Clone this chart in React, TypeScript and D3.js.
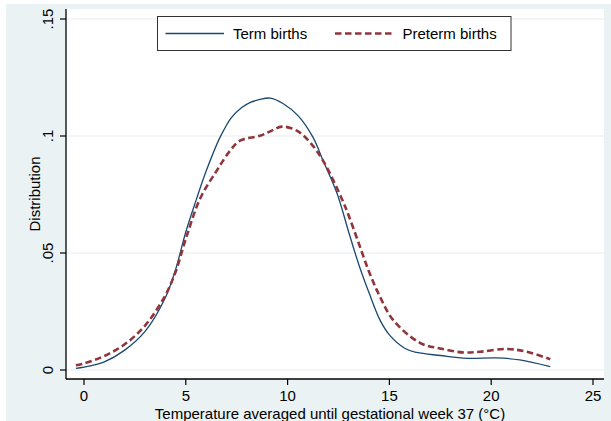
import React from "react";
import * as d3 from "d3";

const termX = [-0.4, 0, 1, 2, 3, 4, 4.5, 5, 5.5, 6, 6.68, 7.25, 7.75, 8.15, 8.6, 9.14, 9.77, 10.51, 11.25, 11.74, 12.43, 13, 13.5, 14, 14.54, 15, 15.77, 16.34, 17.5, 18.8, 20.27, 21.4, 22.9];
const termY = [0.0007, 0.0012, 0.0035, 0.0085, 0.0165, 0.031, 0.043, 0.059, 0.0724, 0.085, 0.0994, 0.108, 0.1122, 0.1143, 0.1155, 0.1162, 0.1139, 0.1087, 0.0994, 0.0895, 0.0754, 0.059, 0.045, 0.033, 0.0213, 0.015, 0.0092, 0.0075, 0.0062, 0.005, 0.0052, 0.0043, 0.0014];

const pretermX = [-0.4, 0, 1, 2, 3, 4, 4.5, 5, 5.7, 6.52, 7.2, 7.66, 8.64, 9.2, 9.71, 10.45, 11.1, 11.74, 12.66, 13, 13.5, 14, 14.5, 15.19, 16.5, 17.49, 18.63, 19.45, 20.76, 21.74, 22.9];
const pretermY = [0.002, 0.0028, 0.006, 0.011, 0.019, 0.032, 0.042, 0.056, 0.0732, 0.0852, 0.094, 0.098, 0.1001, 0.1022, 0.104, 0.1023, 0.0973, 0.0895, 0.0732, 0.066, 0.054, 0.042, 0.032, 0.0213, 0.0116, 0.0092, 0.0075, 0.0078, 0.009, 0.0078, 0.0046];

const xTicks = [0, 5, 10, 15, 20, 25];
const yTicks = [0, 0.05, 0.1, 0.15];
const yTickLabels = ["0", ".05", ".1", ".15"];
const seriesNames = ["Term births", "Preterm births"];

const W = 611;
const H = 421;
const FONT = "'Liberation Sans', Arial, sans-serif";
const BLUE = "#1a476f";
const RED = "#90353b";
const BG = "#eaf2f3";
const GRID = "#e5eef0";

export default function App() {
  const x = d3.scaleLinear().domain([0, 25]).range([84, 593]);
  const y = d3.scaleLinear().domain([0, 0.15]).range([370, 19]);
  const plotL = 66, plotR = 604, plotT = 9, plotB = 379;

  const line = d3
    .line<[number, number]>()
    .x((d) => x(d[0]))
    .y((d) => y(d[1]))
    .curve(d3.curveCatmullRom.alpha(0.5));

  const term = termX.map((v, i) => [v, termY[i]] as [number, number]);
  const pre = pretermX.map((v, i) => [v, pretermY[i]] as [number, number]);

  return (
    <svg
      width={W}
      height={H}
      style={{ position: "absolute", left: 0, top: 0, display: "block" }}
      fontFamily={FONT}
    >
      <rect x={0} y={0} width={W} height={H} fill="#ffffff" />
      <rect x={6} y={4} width={W - 6} height={H - 4} fill={BG} />
      <rect x={plotL} y={plotT} width={plotR - plotL} height={plotB - plotT} fill="#ffffff" />
      {yTicks.map((t) => (
        <line key={"g" + t} x1={plotL} x2={plotR} y1={y(t)} y2={y(t)} stroke={GRID} strokeWidth={1.2} />
      ))}
      <path d={line(term) || ""} fill="none" stroke={BLUE} strokeWidth={1.3} />
      <path d={line(pre) || ""} fill="none" stroke={RED} strokeWidth={2.6} strokeDasharray="6.5 3.5" />
      <line x1={plotL} x2={plotL} y1={plotT} y2={plotB} stroke="#000" strokeWidth={1.3} />
      <line x1={plotL} x2={plotR} y1={plotB} y2={plotB} stroke="#000" strokeWidth={1.3} />
      {yTicks.map((t, i) => (
        <g key={"yt" + t}>
          <line x1={plotL - 6} x2={plotL} y1={y(t)} y2={y(t)} stroke="#000" strokeWidth={1.2} />
          <text
            x={0}
            y={0}
            transform={`translate(53,${y(t)}) rotate(-90)`}
            textAnchor="middle"
            fontSize={15}
            fill="#000"
          >
            {yTickLabels[i]}
          </text>
        </g>
      ))}
      {xTicks.map((t) => (
        <g key={"xt" + t}>
          <line x1={x(t)} x2={x(t)} y1={plotB} y2={plotB + 6} stroke="#000" strokeWidth={1.2} />
          <text x={x(t)} y={400.5} textAnchor="middle" fontSize={15} fill="#000">
            {t}
          </text>
        </g>
      ))}
      <text x={330} y={418.5} textAnchor="middle" fontSize={15} fill="#000">
        Temperature averaged until gestational week 37 (°C)
      </text>
      <text transform={`translate(40,${(plotT + plotB) / 2}) rotate(-90)`} textAnchor="middle" fontSize={15} fill="#000">
        Distribution
      </text>
      <rect x={157.5} y={16.5} width={353.5} height={34} fill="#ffffff" stroke="#333" strokeWidth={1} />
      <line x1={165.5} x2={224} y1={33.5} y2={33.5} stroke={BLUE} strokeWidth={1.3} />
      <text x={233} y={39} fontSize={15} fill="#000">
        {seriesNames[0]}
      </text>
      <line x1={335} x2={392} y1={33.5} y2={33.5} stroke={RED} strokeWidth={2.6} strokeDasharray="6.5 3.5" />
      <text x={402.5} y={39} fontSize={15} fill="#000">
        {seriesNames[1]}
      </text>
    </svg>
  );
}
